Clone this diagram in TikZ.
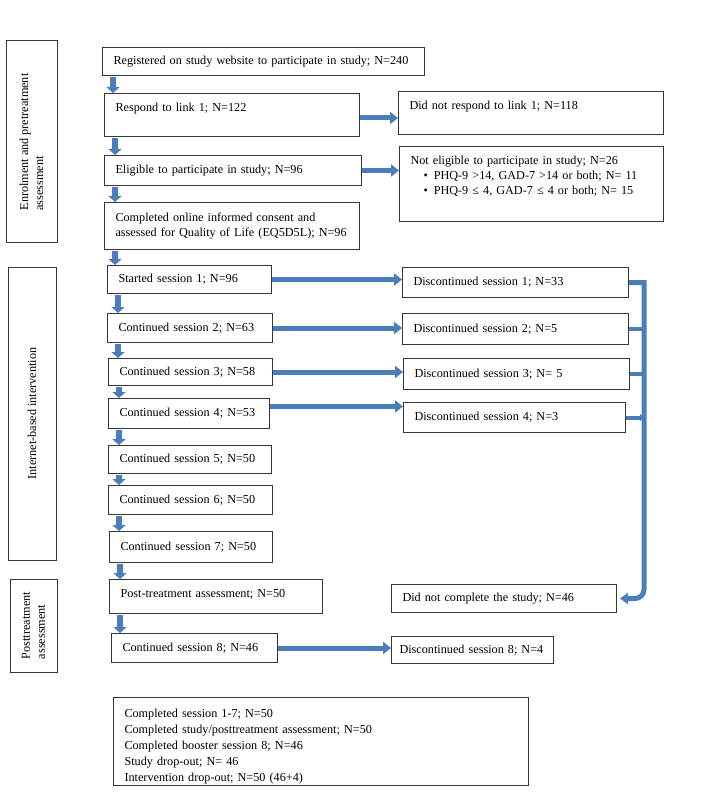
\documentclass[tikz,border=0pt]{standalone}
\usepackage{fontspec}
\setmainfont{Liberation Serif}
\usetikzlibrary{arrows.meta}

\definecolor{flowblue}{RGB}{74,126,187}
\definecolor{boxgray}{RGB}{55,55,55}

\tikzset{
	box/.style={draw=boxgray, line width=1pt, anchor=north west, align=left,
		inner xsep=11pt, inner ysep=3pt, font=\fontsize{12.2}{15}\selectfont},
	stage/.style={draw=boxgray, line width=1pt, align=left, rotate=90,
		font=\fontsize{12.2}{15}\selectfont},
	down/.style={draw=flowblue, line width=5.5pt, -{Triangle[length=6pt,width=13pt]},
		shorten <=1pt},
	across/.style={draw=flowblue, line width=5pt, -{Triangle[length=8pt,width=12pt]}},
	bracket/.style={draw=flowblue, line width=5pt},
	stub/.style={draw=flowblue, line width=4pt}
}

\begin{document}
\begin{tikzpicture}[x=1pt, y=-1pt]
	\useasboundingbox (0,0) rectangle (706,799);

	% stages
	\node[stage, minimum width=202pt, minimum height=51pt] (enrol) at (31.5,142) {Enrolment and pretreatment\\assessment};
	\node[stage, minimum width=293pt, minimum height=48pt] (inter) at (32,413.5) {Internet-based intervention};
	\node[stage, minimum width=93pt, minimum height=47pt] (postst) at (33.5,625.5) {Posttreatment\\assessment};

	% main column
	\node[box, text width=300pt, minimum height=28pt] (reg) at (102,47) {Registered on study website to participate in study; N=240};
	\node[box, text width=233pt, text height=15pt, text depth=22pt] (resp) at (104,93) {Respond to link 1; N=122};
	\node[box, text width=235pt, minimum height=30pt] (elig) at (104,155) {Eligible to participate in study; N=96};
	\node[box, text width=233pt, minimum height=47pt] (cons) at (104,202) {Completed online informed consent and\\assessed for Quality of Life (EQ5D5L); N=96};
	\node[box, text width=142pt, minimum height=28pt] (s1) at (107,265) {Started session 1; N=96};
	\node[box, text width=143pt, minimum height=29pt] (c2) at (107,313) {Continued session 2; N=63};
	\node[box, text width=142pt, minimum height=27pt] (c3) at (108,358) {Continued session 3; N=58};
	\node[box, text width=139pt, minimum height=30pt] (c4) at (108,398) {Continued session 4; N=53};
	\node[box, text width=141pt, minimum height=28pt] (c5) at (108,445) {Continued session 5; N=50};
	\node[box, text width=142pt, minimum height=29pt] (c6) at (108,485) {Continued session 6; N=50};
	\node[box, text width=141pt, minimum height=31pt] (c7) at (109,531) {Continued session 7; N=50};
	\node[box, text width=191pt, text height=15pt, text depth=13pt] (post) at (109,579) {Post-treatment assessment; N=50};
	\node[box, text width=144pt, minimum height=29pt] (c8) at (111,633) {Continued session 8; N=46};

	% right column
	\node[box, text width=243pt, text height=15pt, text depth=22pt] (nresp) at (398,91) {Did not respond to link 1; N=118};
	\node[box, text width=242pt, text height=15pt, text depth=54pt] (nelig) at (399,146) {Not eligible to participate in study; N=26\\
		\hspace*{13pt}\textbullet\hspace{6pt}PHQ-9 >14, GAD-7 >14 or both; N= 11\\
		\hspace*{13pt}\textbullet\hspace{6pt}PHQ-9 ≤ 4, GAD-7 ≤ 4 or both; N= 15};
	\node[box, text width=204pt, minimum height=30pt] (d1) at (402,267) {Discontinued session 1; N=33};
	\node[box, text width=204pt, minimum height=31pt] (d2) at (402,313) {Discontinued session 2; N=5};
	\node[box, text width=204pt, minimum height=31pt] (d3) at (403,358) {Discontinued session 3; N= 5};
	\node[box, text width=200pt, minimum height=30pt] (d4) at (403,402) {Discontinued session 4; N=3};
	\node[box, text width=203pt, minimum height=28pt] (dnc) at (391,584) {Did not complete the study; N=46};
	\node[box, inner xsep=8pt, text width=146pt, minimum height=27pt] (d8) at (391,636) {Discontinued session 8; N=4};

	% summary
	\node[box, text width=393pt, text height=17pt, text depth=65pt, font=\fontsize{12.2}{16}\selectfont] (summ) at (113,697) {Completed session 1-7; N=50\\
		Completed study/posttreatment assessment; N=50\\
		Completed booster session 8; N=46\\
		Study drop-out; N= 46\\
		Intervention drop-out; N=50 (46+4)};

	% down arrows
	\foreach \a/\b in {reg/resp, resp/elig, elig/cons, cons/s1, s1/c2, c2/c3, c3/c4, c4/c5, c5/c6, c6/c7, c7/post, post/c8}
		\draw[down] ([xshift=11pt]\a.south west) -- ([xshift=11pt]\a.south west |- \b.north);

	% side arrows
	\draw[across] ([yshift=-3pt]resp.east) -- ([yshift=-3pt]resp.east -| nresp.west);
	\draw[across] (elig.east) -- (elig.east -| nelig.west);
	\draw[across] (s1.east) -- (s1.east -| d1.west);
	\draw[across] (c2.east) -- (c2.east -| d2.west);
	\draw[across] (c3.east) -- (c3.east -| d3.west);
	\draw[across] ([yshift=7pt]c4.east) -- ([yshift=7pt]c4.east -| d4.west);
	\draw[across] (c8.east) -- (c8.east -| d8.west);

	% drop-outs gathered
	\coordinate (jtop) at ([xshift=15pt]d1.east);
	\draw[bracket, -{Triangle[length=8pt,width=11pt]}] (d1.east) -- (jtop) [rounded corners=9pt] |- ([xshift=3pt]dnc.east);
	\draw[stub] (d2.east) -- (d2.east -| jtop);
	\draw[stub] (d3.east) -- (d3.east -| jtop);
	\draw[stub, -{Triangle[length=4pt,width=7pt]}] (d4.east) -- (d4.east -| jtop);

\end{tikzpicture}
\end{document}
